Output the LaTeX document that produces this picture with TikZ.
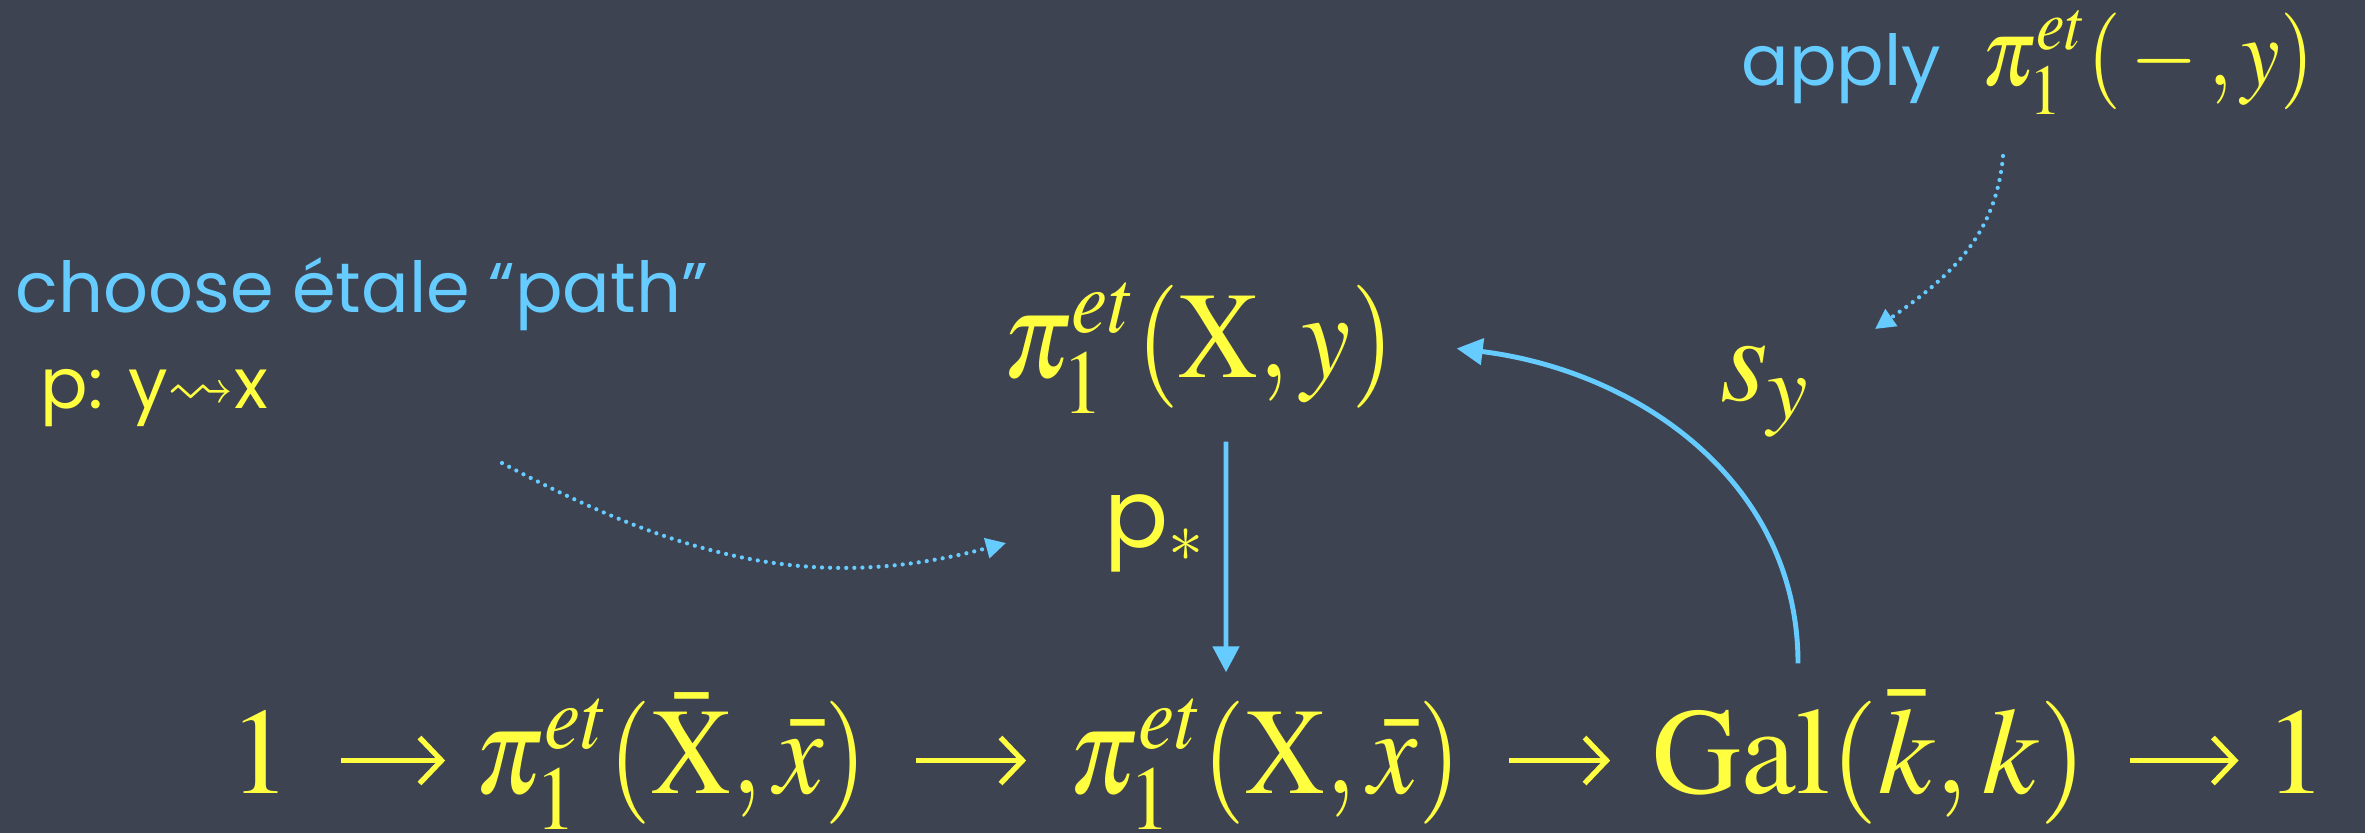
\documentclass[tikz,border=0pt]{standalone}
\usepackage{mathptmx}
\usepackage{amssymb}
\usepackage{graphicx}
\usepackage[no-math]{fontspec}
\newfontfamily\chalk{Poppins}
\usetikzlibrary{arrows.meta,calc}
\definecolor{board}{RGB}{61,67,81}
\definecolor{chalkblue}{RGB}{102,204,255}
\definecolor{chalkyellow}{RGB}{255,255,64}
\newcommand{\squeeze}[1]{\scalebox{0.9}[1]{#1}}

\begin{document}
\begin{tikzpicture}[
  mathbig/.style={text=chalkyellow, font=\fontsize{35}{40}\selectfont, inner sep=0pt, anchor=base},
  rowitem/.style={mathbig, text height=9mm, text depth=2.5mm},
  chalktext/.style={font=\chalk\fontsize{20}{24}\selectfont, inner sep=0pt, anchor=base west},
  maparrow/.style={draw=chalkblue, line width=1.4pt, -{Triangle[length=2.6mm,width=2.6mm]}},
  rowarrow/.style={draw=chalkyellow, line width=1.5pt, -{Straight Barb[length=2.2mm,width=4.6mm]}},
  hintarrow/.style={draw=chalkblue, line width=1.2pt, line cap=round, dash pattern=on 0pt off 2.3pt, -{Triangle[length=2mm,width=2mm]}},
]
\useasboundingbox (0,0) rectangle (23.65,8.33);
\fill[board] (0,0) rectangle (23.65,8.33);

% hints
\node[chalktext, text=chalkblue] (choose) at (0.15,5.21) {choose étale “path”};
\node[chalktext, text=chalkyellow] (path) at (0.40,4.25) {p: y{\fontsize{19}{19}\selectfont$\rightsquigarrow$}x};
\node[chalktext, text=chalkblue, anchor=base east] (apply) at (19.42,7.48) {apply};
\node[mathbig, font=\fontsize{27.5}{32}\selectfont, anchor=base east] (applypi) at (23.15,7.48) {\squeeze{$\pi_1^{et}(\,-\,,y)$}};

% top of the diagram
\node[mathbig] (pixy) at (11.98,4.56) {\squeeze{$\pi_1^{et}(\mathrm{X},y)$}};
\node[mathbig] (sy) at (17.65,4.33) {$s_y$};
\node[chalktext, text=chalkyellow, font=\chalk\fontsize{27}{30}\selectfont, anchor=base] (pstar) at (11.55,2.86) {p$_*$};

% the exact sequence
\node[rowitem] (one) at (2.60,0.40) {$1$};
\node[rowitem] (pibar) at (6.71,0.40) {\squeeze{$\pi_1^{et}(\bar{\mathrm{X}},\bar x)$}};
\node[rowitem] (pix) at (12.65,0.40) {\squeeze{$\pi_1^{et}(\mathrm{X},\bar x)$}};
\node[rowitem] (gal) at (18.70,0.40) {$\mathrm{Gal}(\bar k,k)$};
\node[rowitem] (oneend) at (22.96,0.40) {$1$};
\draw[rowarrow, shorten <=5mm, shorten >=2.9mm] (one) -- (pibar);
\draw[rowarrow, shorten <=4.8mm, shorten >=4.2mm] (pibar) -- (pix);
\draw[rowarrow, shorten <=4.7mm, shorten >=4.2mm] (pix) -- (gal);
\draw[rowarrow, shorten <=4.2mm, shorten >=2.6mm] (gal) -- (oneend);

\draw[maparrow] ([xshift=2.8mm,yshift=-2.7mm]pixy.south) -- ([xshift=-3.9mm,yshift=3mm]pix.north);
\draw[maparrow] ([xshift=-7.2mm,yshift=3.9mm]gal.north) to[out=90,in=-7] ([xshift=6.2mm]pixy.east);

% dotted hint arrows
\coordinate (pathfrom) at (5.02,3.70);
\coordinate (pathto) at (10.06,2.90);
\draw[hintarrow] (pathfrom) to[out=-28,in=195] (pathto);
\coordinate (applyfrom) at (20.03,6.77);
\coordinate (applyto) at (18.75,5.04);
\draw[hintarrow] (applyfrom) to[out=-95,in=35] (applyto);
\end{tikzpicture}
\end{document}
